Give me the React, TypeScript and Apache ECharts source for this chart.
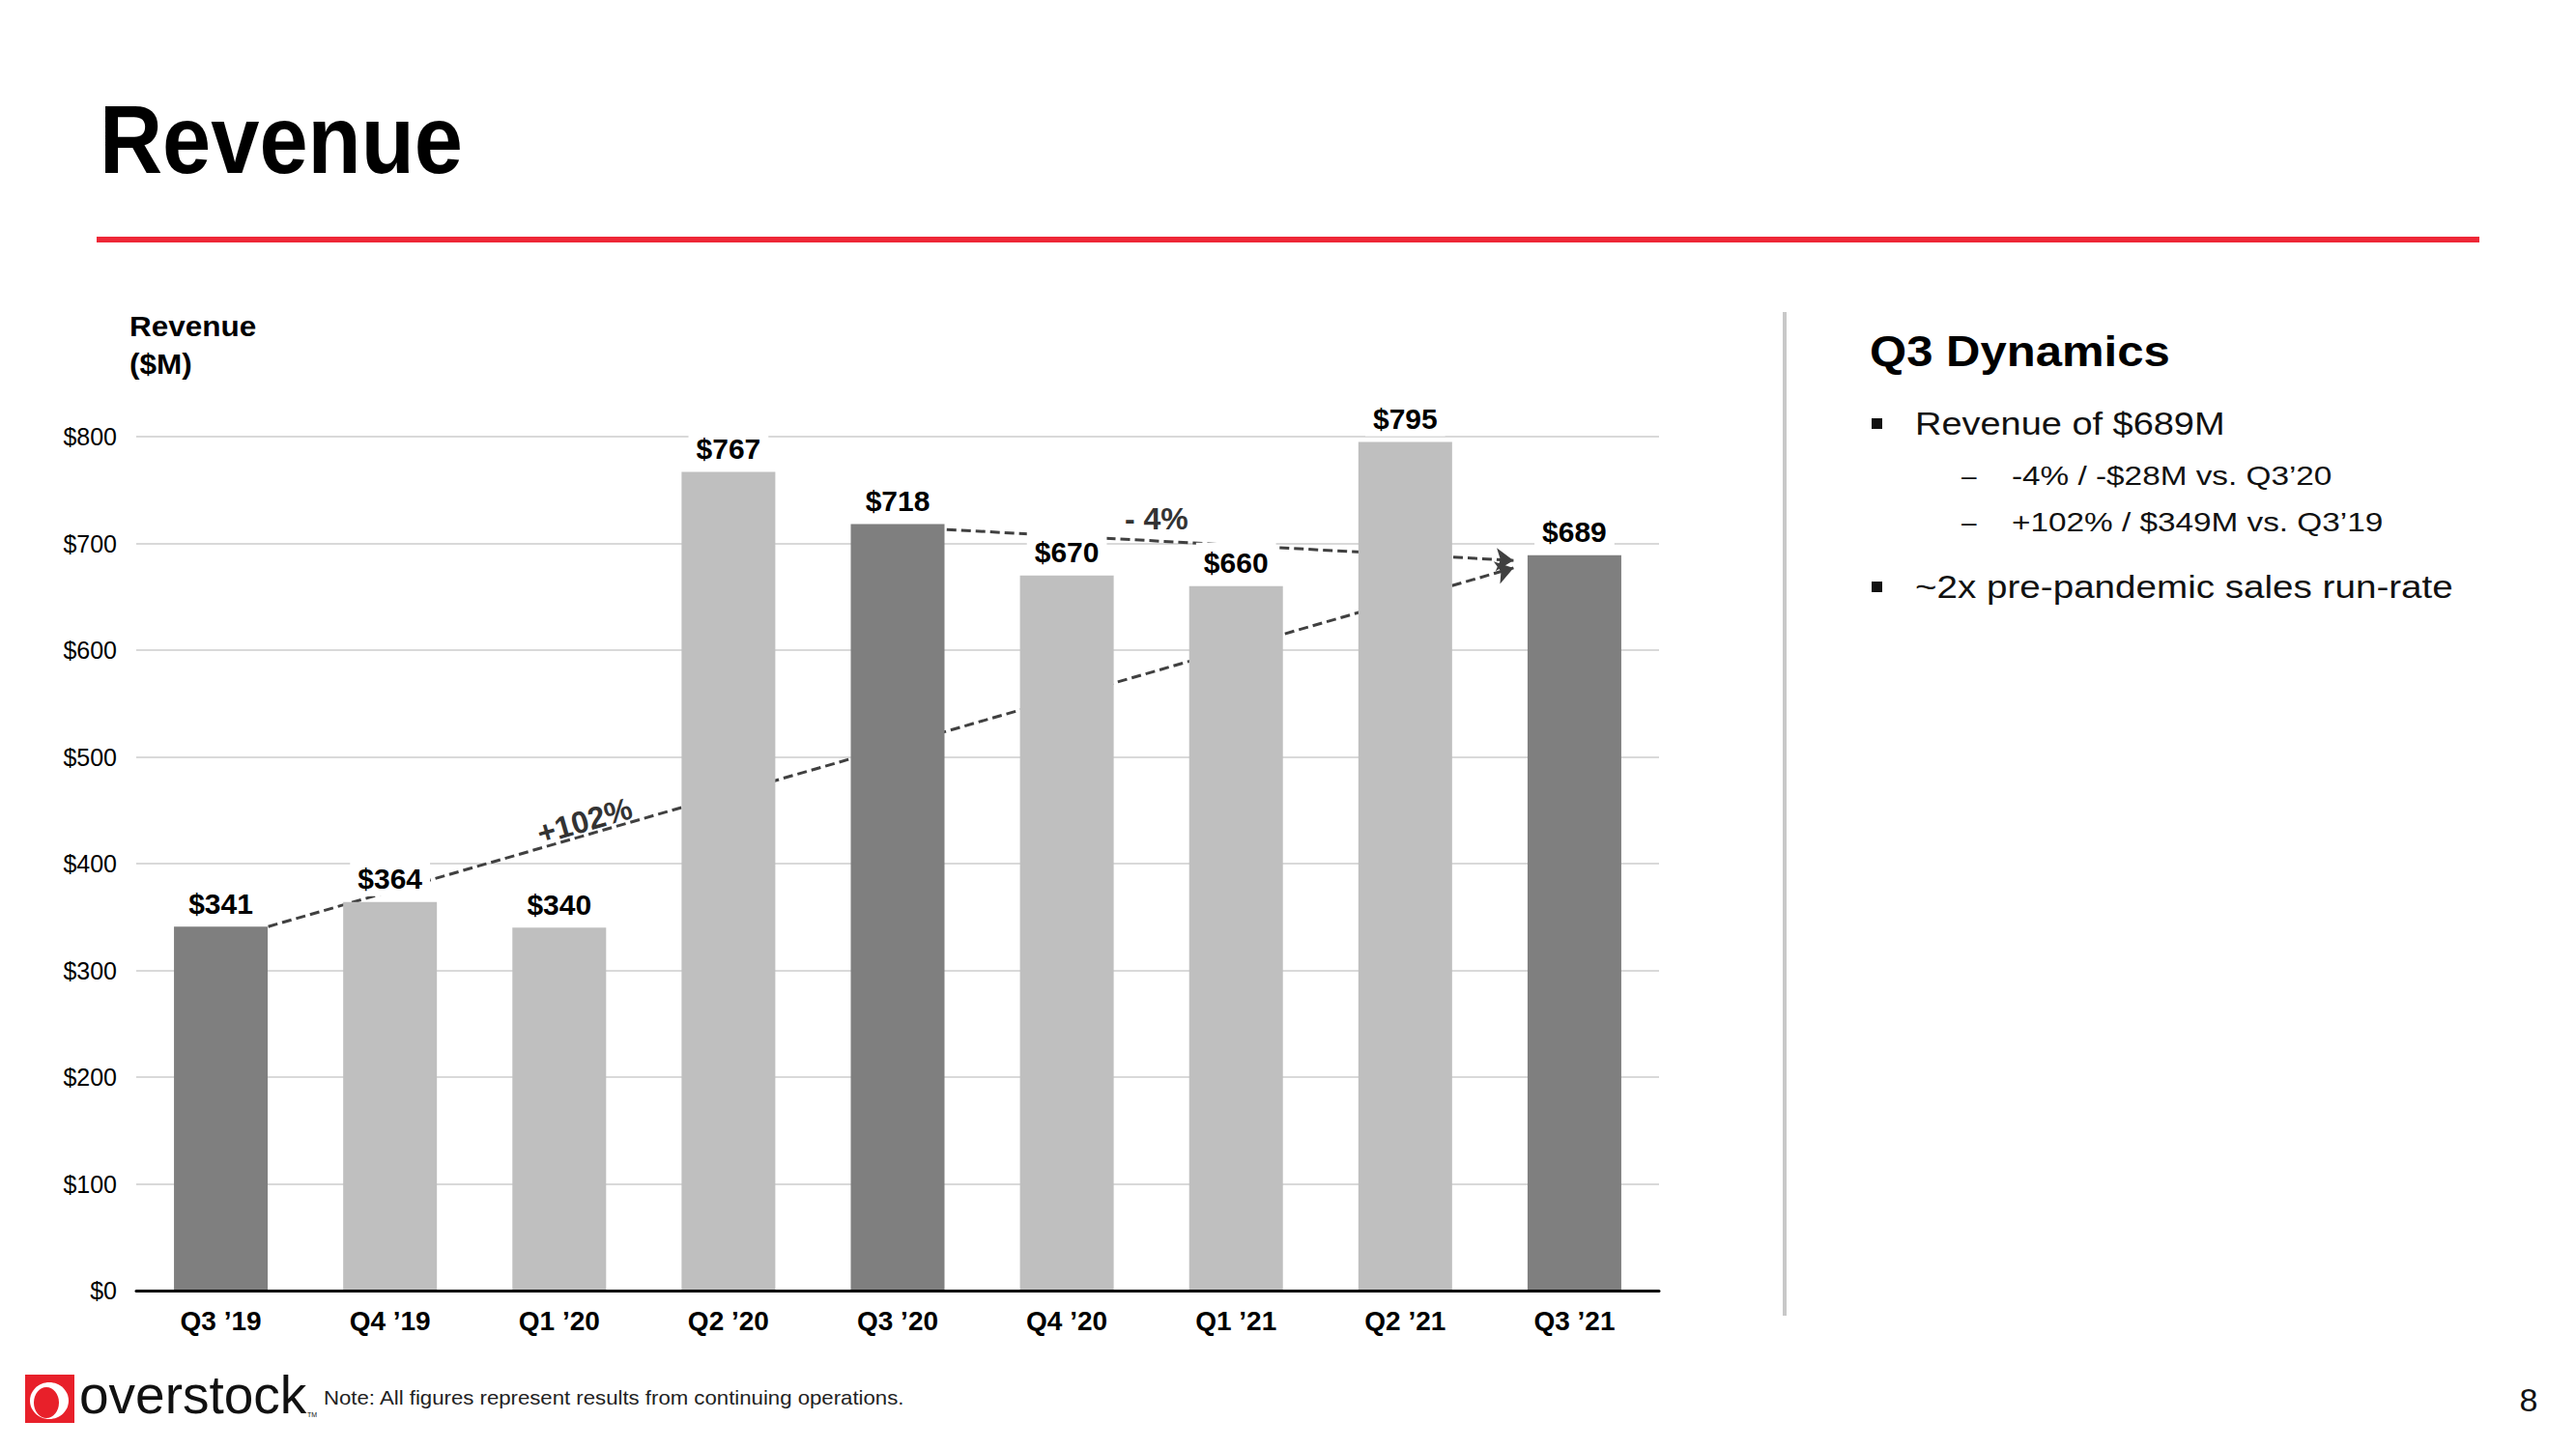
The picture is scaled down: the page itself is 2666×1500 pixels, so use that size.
import React, { useEffect, useRef } from 'react';
import * as echarts from 'echarts';

// ---------- data ----------
const categories = ['Q3 ’19', 'Q4 ’19', 'Q1 ’20', 'Q2 ’20', 'Q3 ’20', 'Q4 ’20', 'Q1 ’21', 'Q2 ’21', 'Q3 ’21'];
const revenue = [341, 364, 340, 767, 718, 670, 660, 795, 689];
const highlightedQuarters = ['Q3 ’19', 'Q3 ’20', 'Q3 ’21'];
const yMin = 0;
const yMax = 800;
const yStep = 100;

// trend arrows: [category position, value] from -> to
const trendVsQ320 = [[4.29, 713], [7.64, 684]];
const trendVsQ319 = [[0.28, 341], [7.64, 677]];
const trendLabelTexts = ['- 4%', '+102%'];
const trendLabelPositions = [[5.53, 723], [2.15, 440]];
const trendLabelAngles = [0, 16];

const pageTitle = 'Revenue';
const axisTitleLines = ['Revenue', '($M)'];
const panelTitle = 'Q3 Dynamics';
const bulletMain = ['Revenue of $689M', '~2x pre-pandemic sales run-rate'];
const bulletSub = ['-4% / -$28M vs. Q3’20', '+102% / $349M vs. Q3’19'];
const noteText = 'Note: All figures represent results from continuing operations.';
const pageNumber = '8';

const FONT = '"Liberation Sans", Arial, Helvetica, sans-serif';
const DARK = '#7F7F7F';
const LIGHT = '#BFBFBF';

function txt(x: number, y: number, text: string, size: number, weight: string, opts: any = {}) {
  return {
    type: 'text',
    x,
    y,
    scaleX: opts.scaleX ?? 1,
    rotation: opts.rotation ?? 0,
    silent: true,
    z: opts.z ?? 10,
    style: {
      text,
      fontSize: size,
      fontWeight: weight,
      fontFamily: FONT,
      fill: opts.fill ?? '#000',
      align: opts.align ?? 'left',
      textAlign: opts.align ?? 'left',
      verticalAlign: 'middle',
      textVerticalAlign: 'middle',
    },
  };
}

export default function App() {
  const ref = useRef<HTMLDivElement>(null);

  useEffect(() => {
    if (!ref.current) return;
    const chart = echarts.init(ref.current, undefined, { renderer: 'svg' });

    const graphic: any[] = [
      // title
      txt(103, 144, pageTitle, 101, 'bold', { scaleX: 0.893 }),
      // red rule
      { type: 'line', silent: true, shape: { x1: 100, y1: 248, x2: 2566, y2: 248 }, style: { stroke: '#EE2737', lineWidth: 6 } },
      // axis title
      txt(134, 338, axisTitleLines[0], 30, 'bold', { scaleX: 1.05 }),
      txt(134, 377, axisTitleLines[1], 30, 'bold', { scaleX: 1.05 }),
      // divider
      { type: 'line', silent: true, shape: { x1: 1847, y1: 323, x2: 1847, y2: 1362 }, style: { stroke: '#C8C8C8', lineWidth: 4 } },
      // right panel
      txt(1935, 363, panelTitle, 45, 'bold', { scaleX: 1.09 }),
      { type: 'rect', silent: true, shape: { x: 1937, y: 433, width: 11, height: 11 }, style: { fill: '#111' } },
      txt(1982, 439, bulletMain[0], 33, 'normal', { scaleX: 1.15, fill: '#111' }),
      txt(2030, 492, '–', 28, 'normal', { fill: '#111' }),
      txt(2082, 492, bulletSub[0], 28, 'normal', { scaleX: 1.19, fill: '#111' }),
      txt(2030, 540, '–', 28, 'normal', { fill: '#111' }),
      txt(2082, 540, bulletSub[1], 28, 'normal', { scaleX: 1.19, fill: '#111' }),
      { type: 'rect', silent: true, shape: { x: 1937, y: 602, width: 11, height: 11 }, style: { fill: '#111' } },
      txt(1982, 608, bulletMain[1], 33, 'normal', { scaleX: 1.17, fill: '#111' }),
      // logo
      { type: 'rect', silent: true, shape: { x: 26, y: 1423, width: 51, height: 50 }, style: { fill: '#E8202A' } },
      { type: 'ellipse', silent: true, shape: { cx: 51, cy: 1450, rx: 20, ry: 19 }, style: { fill: '#fff' } },
      { type: 'ellipse', silent: true, shape: { cx: 48, cy: 1452, rx: 13, ry: 16 }, style: { fill: '#E8202A' } },
      { type: 'rect', silent: true, x: 36, y: 1431, rotation: 0.7, shape: { x: -6, y: -4, width: 12, height: 8 }, style: { fill: '#E8202A' } },
      txt(82, 1444, 'overstock', 55, 'normal', { fill: '#111' }),
      txt(318, 1464, 'TM', 7, 'normal', { fill: '#111' }),
      // note
      txt(335, 1447, noteText, 20, 'normal', { fill: '#222', scaleX: 1.11 }),
      // page number
      txt(2617, 1449, pageNumber, 34, 'normal', { align: 'center', fill: '#111' }),
    ];

    const option: any = {
      animation: false,
      backgroundColor: '#fff',
      textStyle: { fontFamily: FONT },
      grid: { left: 141, right: 949, top: 452, bottom: 164, containLabel: false },
      xAxis: [
        {
          type: 'category',
          data: categories,
          axisTick: { show: false },
          axisLine: { lineStyle: { color: '#000', width: 3 } },
          axisLabel: { fontSize: 28, fontWeight: 'bold', color: '#000', margin: 17, fontFamily: FONT },
          splitLine: { show: false },
          z: 5,
        },
        { type: 'value', show: false, min: -0.5, max: 8.5 },
      ],
      yAxis: {
        type: 'value',
        min: yMin,
        max: yMax,
        interval: yStep,
        axisLine: { show: false },
        axisTick: { show: false },
        axisLabel: { formatter: '${value}', fontSize: 25, color: '#000', margin: 20, fontFamily: FONT },
        splitLine: { lineStyle: { color: '#D9D9D9', width: 2 } },
      },
      series: [
        {
          type: 'lines',
          coordinateSystem: 'cartesian2d',
          xAxisIndex: 1,
          yAxisIndex: 0,
          z: 1,
          silent: true,
          symbol: ['none', 'arrow'],
          symbolSize: [0, 18],
          lineStyle: { color: '#404040', width: 3, type: [10, 5], opacity: 1, curveness: 0 },
          data: [{ coords: trendVsQ320 }, { coords: trendVsQ319 }],
        },
        {
          type: 'bar',
          z: 2,
          barWidth: 97,
          silent: true,
          data: revenue.map((v, i) => ({
            value: v,
            itemStyle: { color: highlightedQuarters.includes(categories[i]) ? DARK : LIGHT },
          })),
          label: {
            show: true,
            position: 'top',
            distance: 6,
            formatter: (p: any) => '$' + p.value,
            fontSize: 30,
            fontWeight: 'bold',
            color: '#000',
            fontFamily: FONT,
            backgroundColor: '#fff',
            padding: [6, 8, 3, 8],
          },
        },
      ],
      graphic,
    };

    chart.setOption(option);

    // trend labels positioned through the chart's own scales
    const trendGraphics = trendLabelTexts.map((t, i) => {
      const p = chart.convertToPixel({ xAxisIndex: 1, yAxisIndex: 0 }, trendLabelPositions[i]) as number[];
      return txt(p[0], p[1], t, 32, 'bold', {
        align: 'center',
        fill: '#333',
        rotation: (trendLabelAngles[i] * Math.PI) / 180,
      });
    });
    chart.setOption({ graphic: [...graphic, ...trendGraphics] });

    return () => chart.dispose();
  }, []);

  return <div ref={ref} style={{ position: 'absolute', left: 0, top: 0, width: 2666, height: 1500 }} />;
}
